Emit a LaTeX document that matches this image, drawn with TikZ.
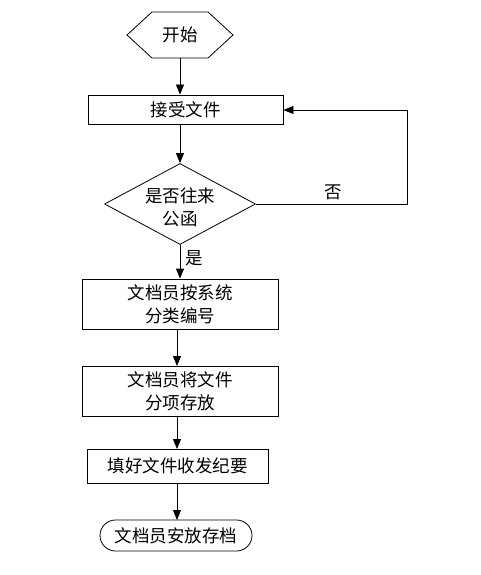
\documentclass[tikz,border=0pt]{standalone}
\usepackage{fontspec}
\newfontfamily\cjk{Noto Sans CJK SC}
\usetikzlibrary{shapes.geometric,shapes.misc,arrows.meta}
\begin{document}
\begin{tikzpicture}[x=1pt,y=-1pt,
  font=\cjk\fontsize{17.5}{23}\selectfont,
  line/.style={draw=black,line width=0.8pt},
  arr/.style={line, -{Triangle[length=10pt,width=8pt]}},
  procbox/.style={draw=black,line width=0.8pt,rectangle,inner sep=0pt,align=center},
  lbl/.style={inner sep=0pt}
]
\useasboundingbox (0,0) rectangle (481,575);
\fill[white] (0,0) rectangle (481,575);
% start hexagon
\node[lbl,minimum width=106pt,minimum height=46pt] (start) at (180,35) {开始};
\draw[line] (127,35) -- (152,12) -- (208,12) -- (233,35) -- (208,58) -- (152,58) -- cycle;
% receive
\node[procbox,minimum width=195pt,minimum height=29pt] (recv) at (185.5,109.5) {接受文件};
% decision
\node[diamond,draw=black,line width=0.8pt,minimum width=151pt,minimum height=81pt,inner sep=0pt] (dec) at (180,204) {};
\node[lbl,align=center] (dectext) at (180,207) {是否往来\\公函};
% boxes
\node[procbox,minimum width=196pt,minimum height=50pt] (b1) at (180,304) {文档员按系统\\分类编号};
\node[procbox,minimum width=196pt,minimum height=50pt] (b2) at (180,391) {文档员将文件\\分项存放};
\node[procbox,minimum width=181pt,minimum height=34pt] (b3) at (177.5,466) {填好文件收发纪要};
\node[rounded rectangle,draw=black,line width=0.8pt,minimum width=152pt,minimum height=31pt,inner sep=0pt] (end) at (176,535.5) {文档员安放存档};
% connectors
\draw[arr] (180,58) -- (recv.north -| start.south);
\draw[arr] (recv.south -| dec.north) -- (dec.north);
\draw[arr] (dec.south) -- (dec.south |- b1.north);
\draw[arr] (177,329) -- (177,366);
\draw[arr] (177,416) -- (177,449);
\draw[arr] (177,483) -- (177,520);
\coordinate (c1) at (407,204);
\coordinate (c2) at (407,110);
\draw[arr] (dec.east) -- (c1) -- (c2) -- (recv.east |- c2);
\node[lbl] (no) at (333,192) {否};
\node[lbl] (yes) at (194,258) {是};
\end{tikzpicture}
\end{document}
